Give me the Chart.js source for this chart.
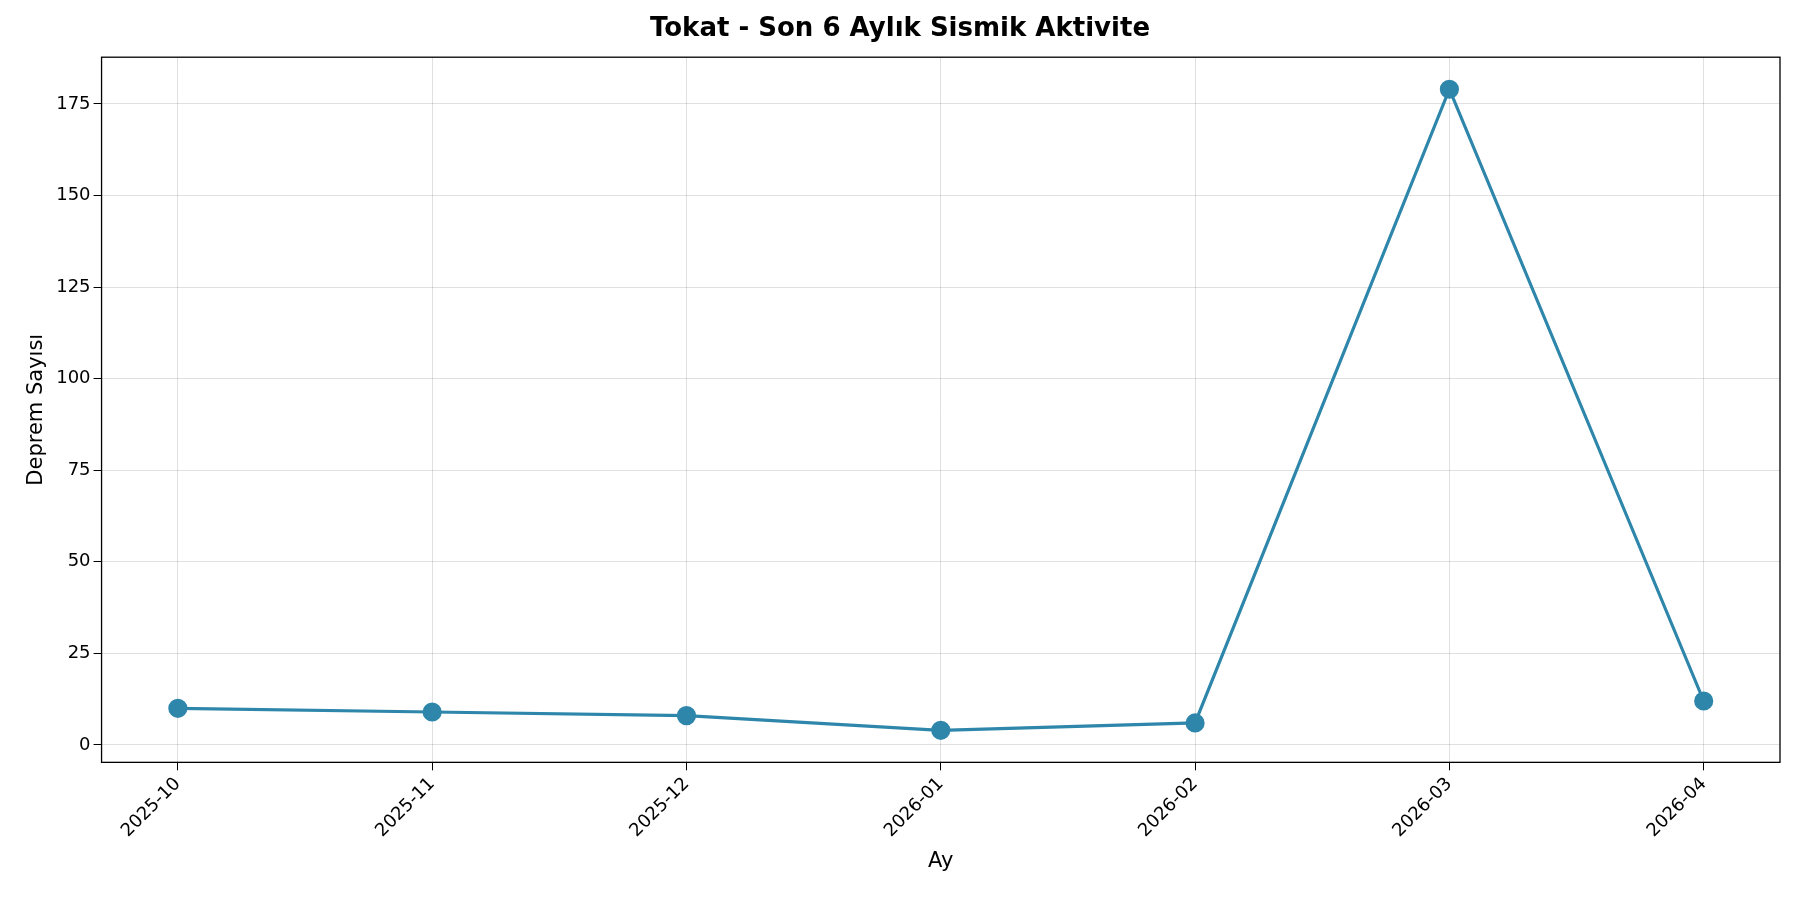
<!DOCTYPE html>
<html>
<head>
<meta charset="utf-8">
<script src="https://cdn.jsdelivr.net/npm/chart.js@4"></script>
<style>
  body { margin: 0; background: #fff; }
  #wrap { width: 1800px; height: 900px; }
</style>
</head>
<body>
<div id="wrap"><canvas id="chart" width="1800" height="900"></canvas></div>
<script>
const months = ['2025-10', '2025-11', '2025-12', '2026-01', '2026-02', '2026-03', '2026-04'];
const counts = [10, 9, 8, 4, 6, 179, 12];
const yTicks = [0, 25, 50, 75, 100, 125, 150, 175];

const font = 'DejaVu Sans';

const frame = {
  id: 'frame',
  afterDraw(chart) {
    const { ctx, chartArea: a } = chart;
    ctx.save();
    ctx.strokeStyle = '#000';
    ctx.lineWidth = 1.3;
    ctx.strokeRect(a.left, a.top, a.right - a.left, a.bottom - a.top);
    ctx.restore();
  }
};

new Chart(document.getElementById('chart'), {
  type: 'line',
  data: {
    datasets: [{
      data: counts.map((v, i) => ({ x: i, y: v })),
      borderColor: '#2E86AB',
      backgroundColor: '#2E86AB',
      borderWidth: 3.2,
      pointRadius: 8,
      pointHoverRadius: 8,
      tension: 0
    }]
  },
  options: {
    responsive: false,
    animation: false,
    layout: { padding: { left: 20, right: 20, top: 6, bottom: 22 } },
    plugins: {
      legend: { display: false },
      tooltip: { enabled: false },
      title: {
        display: true,
        text: 'Tokat - Son 6 Aylık Sismik Aktivite',
        color: '#000',
        font: { family: font, size: 26, weight: 'bold' },
        padding: { top: 8, bottom: 12 }
      }
    },
    scales: {
      x: {
        type: 'linear',
        min: -0.3,
        max: 6.3,
        afterBuildTicks(s) { s.ticks = months.map((_, i) => ({ value: i })); },
        ticks: {
          callback: (v) => months[v],
          color: '#000',
          font: { family: font, size: 18 },
          maxRotation: 45,
          minRotation: 45,
          autoSkip: false
        },
        grid: { color: 'rgba(0,0,0,0.12)', tickLength: 8, tickColor: '#000' },
        border: { display: false },
        title: { display: true, text: 'Ay', color: '#000', font: { family: font, size: 21 } }
      },
      y: {
        min: -4.75,
        max: 187.75,
        afterBuildTicks(s) { s.ticks = yTicks.map((v) => ({ value: v })); },
        ticks: { color: '#000', font: { family: font, size: 18 } },
        grid: { color: 'rgba(0,0,0,0.12)', tickLength: 8, tickColor: '#000' },
        border: { display: false },
        title: { display: true, text: 'Deprem Sayısı', color: '#000', font: { family: font, size: 21 } }
      }
    }
  },
  plugins: [frame]
});
</script>
</body>
</html>
